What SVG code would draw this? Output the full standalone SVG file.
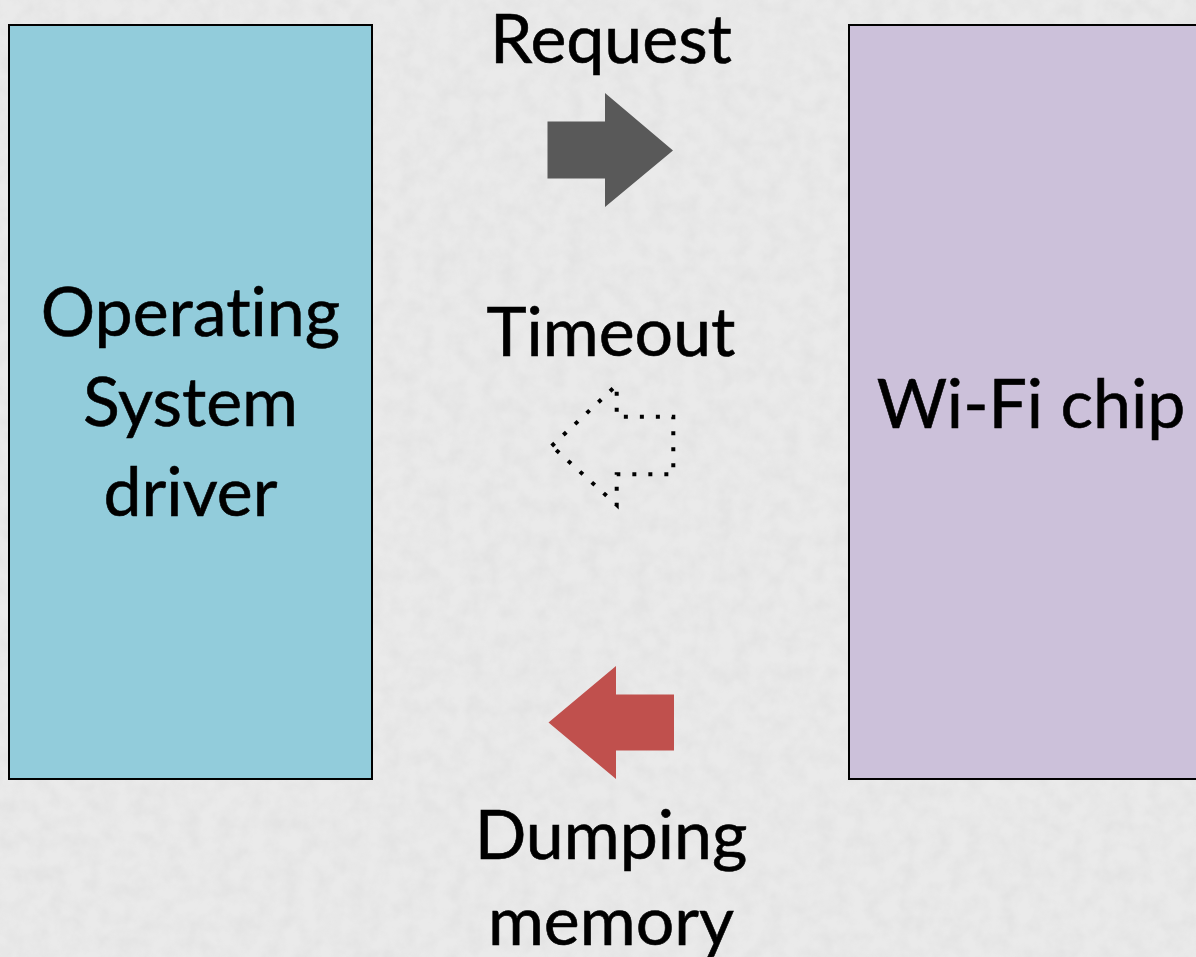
<svg xmlns="http://www.w3.org/2000/svg" width="1196" height="957" viewBox="0 0 1196 957">
<defs>
<filter id="tex" x="0" y="0" width="100%" height="100%">
<feTurbulence type="fractalNoise" baseFrequency="0.06" numOctaves="3" seed="4" result="n"/>
<feColorMatrix in="n" type="matrix" values="0 0 0 0 0.55  0 0 0 0 0.55  0 0 0 0 0.55  0 0 0 0.9 -0.3" result="m"/>
<feComposite in="m" in2="SourceGraphic" operator="in"/>
</filter>
<style>
.lbl{font-family:Lato,"Open Sans","Liberation Sans",sans-serif;font-size:68px;fill:#000;text-anchor:middle;font-variant-ligatures:none;font-feature-settings:"liga" 0;stroke:#000;stroke-width:0.6}
.box{stroke:#000;stroke-width:2}
</style>
</defs>
<rect width="1196" height="957" fill="#eaeaea"/>
<rect width="1196" height="957" fill="#eaeaea" filter="url(#tex)" opacity="0.35"/>
<g id="os-driver">
<rect class="box" x="9" y="25" width="363" height="754" fill="#92ccdb"/>
<text class="lbl" x="190.5" y="336">Operating</text>
<text class="lbl" x="190.5" y="426">System</text>
<text class="lbl" x="190.5" y="516">driver</text>
</g>
<g id="wifi-chip">
<rect class="box" x="849" y="25" width="364" height="754" fill="#ccc1da"/>
<text class="lbl" x="1031" y="428">Wi-Fi chip</text>
</g>
<g id="connectors">
<g id="request">
<text class="lbl" x="611" y="63">Request</text>
<polygon points="547.5,121.5 605,121.5 605,93 673,150.5 605,207 605,178.5 547.5,178.5" fill="#595959"/>
</g>
<g id="timeout">
<text class="lbl" x="611" y="356">Timeout</text>
<polygon points="551.7,446 616.7,385 616.7,416.7 673.3,416.7 673.3,474.3 616.7,474.3 616.7,505" fill="none" stroke="#000" stroke-width="4" stroke-dasharray="4 12"/>
</g>
<g id="dumping">
<polygon points="548.5,722.5 616,666 616,694.5 674,694.5 674,750.5 616,750.5 616,779" fill="#c0504d"/>
<text class="lbl" x="611" y="859">Dumping</text>
<text class="lbl" x="611" y="945">memory</text>
</g>
</g>
</svg>
